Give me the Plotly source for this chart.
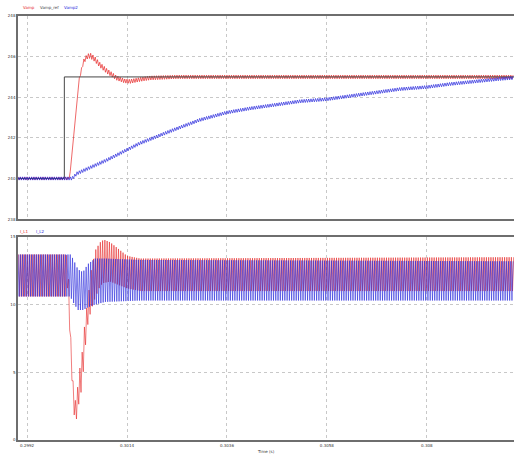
import numpy as np
import plotly.graph_objects as go

# ---- simulation traces ----
# reference amplitude step
ref_t = [0.2990, 0.30002, 0.30002, 0.30992]
ref_v = [240.0, 240.0, 245.0, 245.0]

# Vamp: envelope mean and ripple half-amplitude
vamp_t = [0.2990, 0.30012, 0.30015, 0.30020, 0.30026, 0.30035, 0.30044, 0.30052,
          0.30059, 0.30068, 0.30080, 0.30095, 0.30117, 0.30135, 0.30147, 0.30170,
          0.30191, 0.30250, 0.30992]
vamp_mean = [240.0, 240.0, 240.3, 241.5, 243.0, 244.9, 245.75, 246.0,
             246.05, 245.9, 245.6, 245.3, 244.95, 244.8, 244.78, 244.88,
             244.95, 245.0, 245.0]
vamp_rip = [0.07, 0.07, 0.03, 0.03, 0.03, 0.06, 0.1, 0.12,
            0.13, 0.13, 0.12, 0.12, 0.11, 0.1, 0.1, 0.1,
            0.1, 0.09, 0.09]

# Vamp2: envelope mean and ripple half-amplitude
vamp2_t = [0.2990, 0.30019, 0.30030, 0.30095, 0.30168, 0.30241, 0.30300, 0.30360,
           0.30411, 0.30521, 0.30580, 0.30741, 0.30800, 0.30851, 0.30961, 0.30992]
vamp2_mean = [240.0, 240.0, 240.25, 240.9, 241.73, 242.38, 242.88, 243.25,
              243.45, 243.8, 243.9, 244.4, 244.5, 244.65, 244.9, 244.95]
vamp2_rip = [0.08] * len(vamp2_t)

# inductor currents: upper / lower ripple envelopes
il1_t = [0.2990, 0.30006, 0.30010, 0.30015, 0.30019, 0.30023, 0.30027, 0.30030,
         0.30034, 0.30041, 0.30048, 0.30054, 0.30061, 0.30070, 0.30081, 0.30089,
         0.30103, 0.30118, 0.30140, 0.30169, 0.30992]
il1_hi = [13.7, 13.7, 13.0, 8.5, 5.5, 3.5, 2.8, 3.5,
          4.8, 6.4, 9.0, 10.4, 12.5, 14.0, 14.6, 14.8,
          14.6, 14.2, 13.6, 13.4, 13.5]
il1_lo = [10.6, 10.6, 11.5, 7.0, 4.2, 2.0, 1.2, 1.8,
          2.7, 3.9, 6.8, 8.6, 9.6, 10.5, 11.4, 11.6,
          11.7, 11.5, 11.2, 11.0, 11.0]

il2_t = [0.2990, 0.30015, 0.30021, 0.30032, 0.30043, 0.30054, 0.30070, 0.30092,
         0.30169, 0.30992]
il2_hi = [13.7, 13.7, 13.4, 12.6, 12.4, 13.0, 13.4, 13.4, 13.3, 13.2]
il2_lo = [10.6, 10.6, 10.2, 9.6, 9.6, 9.8, 10.0, 10.2, 10.3, 10.3]

x_ticks = [0.2992, 0.3014, 0.3036, 0.3058, 0.3080]
x_tick_text = ["0.2992", "0.3014", "0.3036", "0.3058", "0.308"]
v_ticks = [238, 240, 242, 244, 246, 248]
i_ticks = [0, 5, 10, 15]

T_SW = 50e-6  # switching period of the ripple
T0, T1 = 0.2990, 0.30992


def ripple(tk, hi, lo, phase=0.0):
    """Switching waveform bouncing between the upper and lower envelopes."""
    ts = np.arange(T0 + phase, T1, T_SW / 2)
    k = np.arange(ts.size)
    up = np.interp(ts, tk, hi)
    dn = np.interp(ts, tk, lo)
    return ts, np.where(k % 2 == 0, up, dn)


RED = "rgb(230,40,40)"
BLUE = "rgb(40,40,220)"
REF = "rgb(70,70,70)"

fig = go.Figure()

tv, vv = ripple(vamp_t, np.add(vamp_mean, vamp_rip), np.subtract(vamp_mean, vamp_rip))
fig.add_trace(go.Scatter(x=tv, y=vv, mode="lines", line=dict(color=RED, width=0.7),
                         xaxis="x", yaxis="y", name="Vamp"))
fig.add_trace(go.Scatter(x=ref_t, y=ref_v, mode="lines", line=dict(color=REF, width=1),
                         xaxis="x", yaxis="y", name="Vamp_ref"))
tv2, vv2 = ripple(vamp2_t, np.add(vamp2_mean, vamp2_rip), np.subtract(vamp2_mean, vamp2_rip))
fig.add_trace(go.Scatter(x=tv2, y=vv2, mode="lines", line=dict(color=BLUE, width=0.7),
                         xaxis="x", yaxis="y", name="Vamp2"))

ti1, ii1 = ripple(il1_t, il1_hi, il1_lo, phase=T_SW / 4)
fig.add_trace(go.Scatter(x=ti1, y=ii1, mode="lines", line=dict(color=RED, width=0.6),
                         xaxis="x2", yaxis="y2", name="I_L1"))
ti2, ii2 = ripple(il2_t, il2_hi, il2_lo)
fig.add_trace(go.Scatter(x=ti2, y=ii2, mode="lines", line=dict(color=BLUE, width=0.6),
                         xaxis="x2", yaxis="y2", name="I_L2"))

axis_common = dict(showline=True, linecolor="rgb(110,110,110)", linewidth=1.5,
                   showgrid=True, gridcolor="rgb(200,200,200)", griddash="dot",
                   gridwidth=1, zeroline=False, ticks="",
                   tickfont=dict(family="DejaVu Sans", size=4, color="#333"))

fig.update_layout(
    width=514, height=454,
    margin=dict(l=18, r=0, t=16, b=14),
    paper_bgcolor="white", plot_bgcolor="white",
    showlegend=False,
    xaxis=dict(axis_common, domain=[0, 1], range=[T0, T1], tickvals=x_ticks,
               ticktext=x_tick_text, showticklabels=False, anchor="y", mirror=True),
    yaxis=dict(axis_common, domain=[0.521, 1], range=[238, 248], tickvals=v_ticks,
               anchor="x"),
    xaxis2=dict(axis_common, domain=[0, 1], range=[T0, T1], tickvals=x_ticks,
                ticktext=x_tick_text, anchor="y2", mirror=True),
    yaxis2=dict(axis_common, domain=[0, 0.479], range=[0, 15], tickvals=i_ticks,
                anchor="x2"),
)

# series labels, positioned in figure pixels
H, W, L, B, TOP = 454, 514, 18, 14, 16
ph, pw = H - TOP - B, W - L
lab_font = dict(family="DejaVu Sans", size=4)
labels = [("Vamp", 21, 7, RED), ("Vamp_ref", 38, 7, REF), ("Vamp2", 62, 7, BLUE),
          ("I_L1", 18, 231, RED), ("I_L2", 34, 231, BLUE)]
for txt, px, py, col in labels:
    fig.add_annotation(text=txt, x=(px - L) / pw, y=(H - B - py) / ph,
                       xref="paper", yref="paper", showarrow=False,
                       font=dict(lab_font, color=col), xanchor="left", yanchor="middle")

fig.add_annotation(text="Time (s)", x=0.5, y=-0.027, xref="paper", yref="paper",
                   showarrow=False, font=dict(lab_font, color="#333"),
                   xanchor="center", yanchor="middle")

fig.write_html("out.html")
